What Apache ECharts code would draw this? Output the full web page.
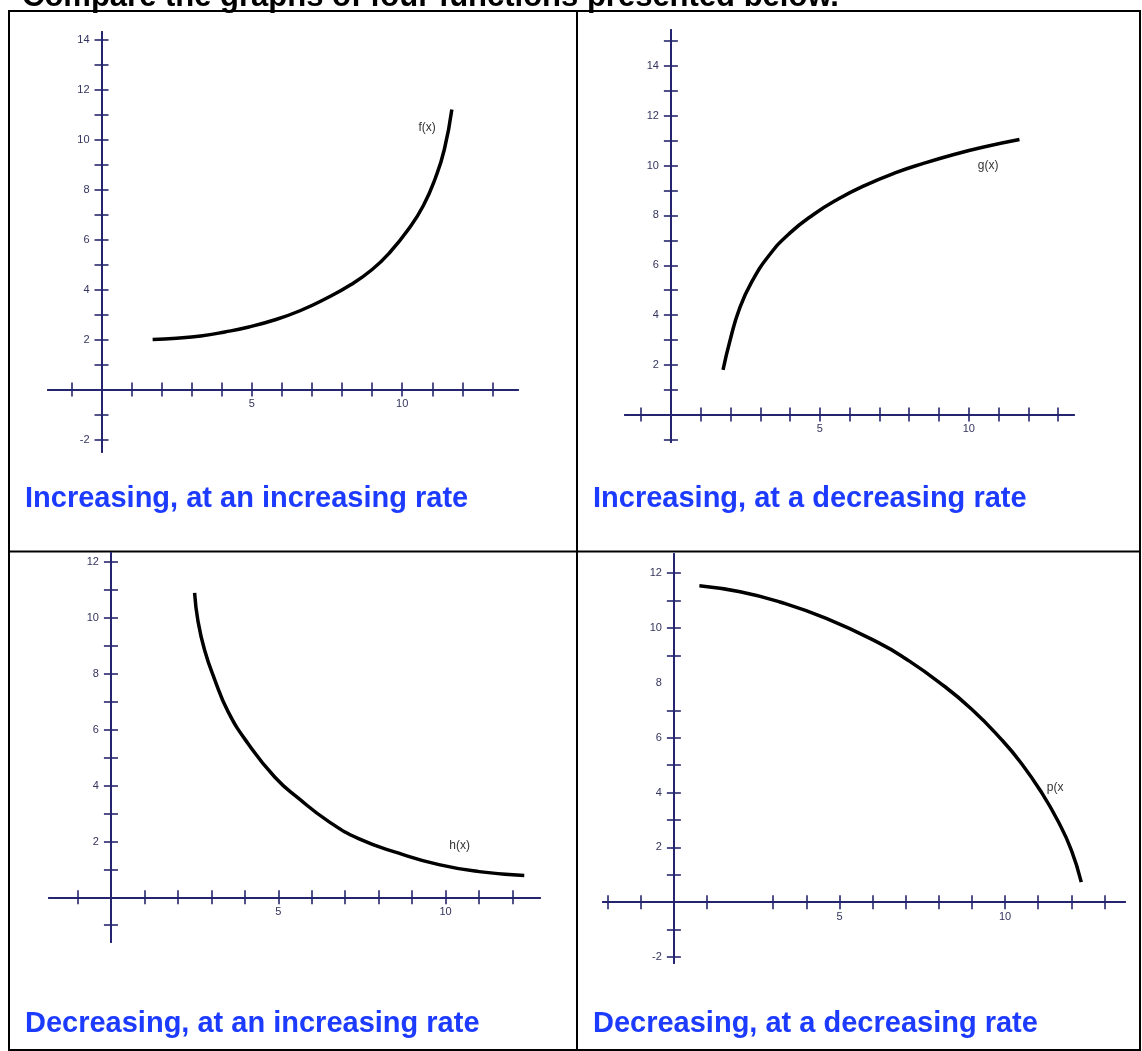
<!DOCTYPE html>
<html>
<head>
<meta charset="utf-8">
<title>Compare the graphs of four functions</title>
<script src="https://cdn.jsdelivr.net/npm/echarts@6/dist/echarts.min.js"></script>
<style>
  html, body { margin: 0; padding: 0; background: #fff; }
  #main { width: 1142px; height: 1051px; }
</style>
</head>
<body>
<div id="main"></div>
<script>
// curve readings, one x list and one y list per function
const fX = [1.7, 2.5, 3.3, 4.1, 4.9, 5.8, 6.6, 7.4, 8.3, 9.0, 9.6, 10.2, 10.7, 11.1, 11.4, 11.65];
const fY = [2.0, 2.05, 2.14, 2.3, 2.5, 2.8, 3.15, 3.6, 4.2, 4.8, 5.5, 6.4, 7.35, 8.45, 9.6, 11.2];

const gX = [1.75, 2.0, 2.3, 2.7, 3.3, 4.0, 4.8, 5.6, 6.5, 7.5, 8.5, 9.5, 10.5, 11.7];
const gY = [1.8, 3.05, 4.25, 5.3, 6.4, 7.3, 8.05, 8.65, 9.2, 9.7, 10.1, 10.45, 10.75, 11.05];

const hX = [2.5, 2.6, 2.8, 3.1, 3.5, 4.1, 4.9, 5.6, 6.5, 7.4, 8.6, 9.8, 11.0, 12.35];
const hY = [10.9, 9.9, 8.85, 7.8, 6.65, 5.5, 4.3, 3.55, 2.72, 2.1, 1.58, 1.17, 0.92, 0.78];

const pX = [0.77, 2.0, 3.2, 4.6, 6.2, 7.0, 8.0, 9.0, 9.9, 10.5, 11.1, 11.6, 12.0, 12.3];
const pY = [11.54, 11.32, 10.95, 10.35, 9.45, 8.88, 8.03, 7.03, 5.92, 5.05, 4.0, 2.95, 1.9, 0.73];

// tick marks and labelled values
const xTicks1 = [-1, 1, 2, 3, 4, 5, 6, 7, 8, 9, 10, 11, 12, 13];
const yTicks1 = [-2, -1, 1, 2, 3, 4, 5, 6, 7, 8, 9, 10, 11, 12, 13, 14];
const yLabels1 = [-2, 2, 4, 6, 8, 10, 12, 14];

const xTicks2 = [-1, 1, 2, 3, 4, 5, 6, 7, 8, 9, 10, 11, 12, 13];
const yTicks2 = [-1, 1, 2, 3, 4, 5, 6, 7, 8, 9, 10, 11, 12, 13, 14, 15];
const yLabels2 = [2, 4, 6, 8, 10, 12, 14];

const xTicks3 = [-1, 1, 2, 3, 4, 5, 6, 7, 8, 9, 10, 11, 12];
const yTicks3 = [-1, 1, 2, 3, 4, 5, 6, 7, 8, 9, 10, 11, 12];
const yLabels3 = [2, 4, 6, 8, 10, 12];

const xTicks4 = [-2, -1, 1, 3, 4, 5, 6, 7, 8, 9, 10, 11, 12, 13];
const yTicks4 = [-2, -1, 1, 2, 3, 4, 5, 6, 7, 9, 10, 11, 12];
const yLabels4 = [-2, 2, 4, 6, 8, 10, 12];

const xLabels = [5, 10];

const curveNames = ['f(x)', 'g(x)', 'h(x)', 'p(x'];
const captions = [
  'Increasing, at an increasing rate',
  'Increasing, at a decreasing rate',
  'Decreasing, at an increasing rate',
  'Decreasing, at a decreasing rate'
];
const title = 'Compare the graphs of four functions presented below.';

const AXIS = '#25256f';
const LABEL = '#34345e';
const BLUE = '#1d3bff';
const FONT = 'Arial, "Liberation Sans", sans-serif';

// panel layout: grid box, axis extents, where the curve name sits
const panels = [
  { grid: { left: 48, top: 32, width: 470, height: 420 }, xr: [-1.78, 13.85], yr: [-2.5, 14.3],
    xs: fX, ys: fY, xt: xTicks1, yt: yTicks1, yl: yLabels1, nameAt: [10.83, 10.46], cap: [25, 499] },
  { grid: { left: 625, top: 30, width: 449, height: 412 }, xr: [-1.54, 13.53], yr: [-1.1, 15.45],
    xs: gX, ys: gY, xt: xTicks2, yt: yTicks2, yl: yLabels2, nameAt: [10.65, 10.0], cap: [593, 499] },
  { grid: { left: 49, top: 553, width: 491, height: 389 }, xr: [-1.85, 12.82], yr: [-1.6, 12.33],
    xs: hX, ys: hY, xt: xTicks3, yt: yTicks3, yl: yLabels3, nameAt: [10.42, 1.86], cap: [25, 1024] },
  { grid: { left: 603, top: 554, width: 522, height: 409 }, xr: [-2.14, 13.62], yr: [-2.22, 12.7],
    xs: pX, ys: pY, xt: xTicks4, yt: yTicks4, yl: yLabels4, nameAt: [11.51, 4.19], cap: [593, 1024] }
];

const chart = echarts.init(document.getElementById('main'));

const grids = [];
const xAxes = [];
const yAxes = [];
const series = [];
const graphics = [];

panels.forEach((p, i) => {
  const g = p.grid;
  grids.push(Object.assign({ containLabel: false, outerBoundsMode: 'none' }, g));

  // distance of the origin from the grid's left and top edges
  const dx = -p.xr[0] / (p.xr[1] - p.xr[0]) * g.width;
  const dy = p.yr[1] / (p.yr[1] - p.yr[0]) * g.height;

  const tickStyle = { color: AXIS, width: 1.6 };
  const lineStyle = { color: AXIS, width: 2 };

  // two axes per direction so every tick crosses the line on both sides
  [['bottom', -(g.height - dy)], ['top', -dy]].forEach(([pos, off], k) => {
    xAxes.push({
      type: 'value', gridIndex: i, position: pos, offset: off,
      min: p.xr[0], max: p.xr[1],
      splitLine: { show: false },
      axisLine: { show: true, onZero: false, lineStyle: lineStyle },
      axisTick: { show: true, customValues: p.xt, length: 7, lineStyle: tickStyle },
      axisLabel: { show: k === 0, customValues: xLabels, color: LABEL, fontSize: 11, margin: 9, fontFamily: FONT }
    });
  });
  [['left', -dx], ['right', -(g.width - dx)]].forEach(([pos, off], k) => {
    yAxes.push({
      type: 'value', gridIndex: i, position: pos, offset: off,
      min: p.yr[0], max: p.yr[1],
      splitLine: { show: false },
      axisLine: { show: true, onZero: false, lineStyle: lineStyle },
      axisTick: { show: true, customValues: p.yt, length: 7, lineStyle: tickStyle },
      axisLabel: { show: k === 0, customValues: p.yl, color: LABEL, fontSize: 11, margin: 12, fontFamily: FONT }
    });
  });

  series.push({
    type: 'line',
    xAxisIndex: 2 * i,
    yAxisIndex: 2 * i,
    data: p.xs.map((x, k) => [x, p.ys[k]]),
    smooth: 0.5,
    symbol: 'none',
    clip: false,
    lineStyle: { color: '#000', width: 3.5 },
    markPoint: {
      symbol: 'circle',
      symbolSize: 1,
      itemStyle: { color: 'rgba(0,0,0,0)' },
      label: { show: true, position: 'inside', formatter: curveNames[i], color: '#333', fontSize: 12, fontFamily: FONT },
      data: [{ coord: p.nameAt }]
    }
  });

  graphics.push({
    type: 'text', x: p.cap[0], y: p.cap[1],
    style: {
      text: captions[i], fill: BLUE, verticalAlign: 'middle',
      font: 'bold 29px "Liberation Sans", Arial, sans-serif'
    }
  });
});

// table frame and the clipped heading
graphics.push(
  { type: 'rect', shape: { x: 9, y: 11, width: 1131, height: 1039 },
    style: { fill: null, stroke: '#000', lineWidth: 2 } },
  { type: 'line', shape: { x1: 577, y1: 11, x2: 577, y2: 1051 },
    style: { stroke: '#000', lineWidth: 2 } },
  { type: 'line', shape: { x1: 9, y1: 551.5, x2: 1141, y2: 551.5 },
    style: { stroke: '#000', lineWidth: 2 } },
  { type: 'text', x: 22, y: -3,
    style: { text: title, fill: '#000', verticalAlign: 'middle',
      font: 'bold 31px "Liberation Sans", Arial, sans-serif' } }
);

chart.setOption({
  animation: false,
  backgroundColor: '#fff',
  grid: grids,
  xAxis: xAxes,
  yAxis: yAxes,
  series: series,
  graphic: graphics
});
</script>
</body>
</html>
